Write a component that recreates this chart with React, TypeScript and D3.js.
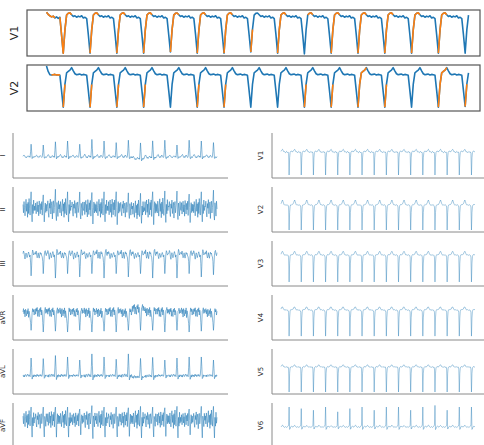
import React from "react";
import * as d3 from "d3";

// ---------------- labels ----------------
const TOP_LABELS = ["V1", "V2"];
const LEFT_LABELS = ["I", "II", "III", "aVR", "aVL", "aVF"];
const RIGHT_LABELS = ["V1", "V2", "V3", "V4", "V5", "V6"];

// ---------------- top strips (16 samples / beat, index 0 = trough) ----------------
const TOP1_LEAD_IN = [0.13, 0.07, 0.03, 0.0, 0.02, -0.03, 0.0, -0.04, -0.01, -0.5];
const TOP1_BEAT = [-1.0, -0.36, 0.05, 0.1, 0.11, 0.06, 0.01, 0.03, -0.01, 0.02, 0.0, 0.03, -0.03, -0.01, -0.05, -0.5];
const TOP1_DEPTH = [1.0, 1.0, 1.0, 1.0, 0.97, 1.0, 1.0, 0.97, 1.0, 1.02, 1.0, 1.0, 1.0, 1.0, 1.0, 1.0];
const TOP1_LEAD_IN_ORANGE = [1, 1, 1, 1, 1, 0, 0, 0, 1];
const TOP1_RISE_BEATS = [1, 1, 1, 1, 1, 1, 1, 1, 1, 0, 1, 1, 1, 1, 1, 0];
const TOP1_HUMP_BEATS = [1, 1, 1, 1, 1, 1, 1, 0, 1, 1, 1, 1, 1, 1, 1, 0];

const TOP2_LEAD_IN = [0.27, 0.1, 0.0, -0.01, 0.0, 0.01, -0.01, 0.0, -0.02, -0.5];
const TOP2_BEAT = [-1.0, -0.3, 0.06, 0.1, 0.14, 0.22, 0.12, 0.03, 0.0, 0.01, 0.02, -0.01, 0.01, 0.0, -0.02, -0.5];
const TOP2_DEPTH = [1.0, 1.0, 1.0, 1.0, 1.0, 1.0, 1.0, 1.0, 1.0, 1.0, 1.0, 1.0, 1.0, 1.0, 1.0, 0.98];
const TOP2_LEAD_IN_ORANGE = [0, 0, 0, 1, 1, 1, 1, 1, 0];
const TOP2_RISE_BEATS = [1, 1, 1, 1, 0, 1, 1, 0, 0, 1, 1, 1, 1, 0, 1, 1];
const TOP2_HUMP_BEATS = [0, 0, 0, 0, 0, 0, 0, 0, 0, 0, 0, 1, 0, 0, 1, 0];

const RISE_MASK = [1, 0, 0, 0, 0, 0, 0, 0, 0, 0, 0, 0, 0, 0, 0, 0];
const HUMP_MASK = [0, 0, 1, 1, 1, 0, 0, 0, 0, 0, 0, 0, 0, 0, 0, 0];

// ---------------- 12-lead grid (24 samples / beat, index 16 = QRS) ----------------
const I_A = [0.06, 0.12, 0.16, 0.1, 0.03, -0.03, 0.02, -0.05, 0.01, 0.05, 0.1, 0.04, -0.01, 0.05, -0.02, 0.42, 1.0, 0.48, -0.12, -0.06, 0.03, -0.03, 0.04, 0.01];
const I_B = [0.02, 0.09, 0.13, 0.15, 0.06, 0.0, -0.04, 0.03, -0.02, 0.07, 0.12, 0.06, 0.02, -0.03, 0.04, 0.4, 1.0, 0.5, -0.08, -0.1, 0.0, 0.02, -0.04, 0.03];
const I_PICK = [0, 1, 0, 0, 1, 0, 1, 0, 1, 0, 0, 1, 0, 1, 0, 1];
const I_AMP = [0.8, 0.75, 0.95, 1.0, 0.8, 1.1, 1.0, 0.9, 1.05, 1.0, 1.05, 1.05, 0.75, 1.05, 1.0, 0.9];
const I_SHIFT = [0, 0, 0, 0, 0, 0, 0, 0, 0, -0.12, -0.04, 0, 0, 0, 0, 0];

const II_A = [0.3, -0.25, 0.5, 0.1, -0.45, 0.25, 0.65, -0.15, 0.35, -0.55, 0.45, -0.3, 0.7, 0.05, -0.4, 0.5, 1.15, -0.2, -0.85, 0.3, -0.3, 0.6, -0.1, 0.2];
const II_B = [-0.1, 0.45, -0.35, 0.2, 0.55, -0.2, 0.3, -0.5, 0.6, 0.1, -0.35, 0.4, -0.05, 0.55, -0.45, 0.65, 1.05, 0.1, -0.95, -0.1, 0.45, -0.25, 0.35, -0.15];
const II_C = [0.15, 0.5, -0.2, -0.5, 0.35, 0.05, 0.6, -0.3, 0.2, 0.45, -0.6, 0.25, 0.5, -0.25, 0.1, 0.55, 1.2, -0.35, -0.7, 0.4, 0.05, -0.45, 0.5, 0.0];
const II_PICK = [0, 1, 2, 0, 2, 1, 0, 1, 2, 0, 1, 0, 2, 1, 0, 2];
const II_AMP = [1.0, 0.9, 1.1, 1.0, 0.95, 1.05, 1.0, 1.1, 0.9, 1.0, 1.1, 1.05, 1.0, 0.95, 1.0, 1.05];
const II_SHIFT = [0, 0, 0, 0, 0, 0, 0, 0, 0, -0.1, 0, 0, 0, 0, 0, 0];

const III_A = [0.12, 0.25, 0.18, -0.02, -0.15, 0.05, 0.15, 0.06, -0.08, 0.02, 0.12, 0.2, 0.1, -0.05, 0.05, -0.35, -1.0, -0.5, 0.1, 0.3, 0.22, 0.05, 0.1, 0.15];
const III_B = [0.2, 0.1, 0.28, 0.05, -0.1, -0.02, 0.18, 0.0, -0.12, 0.08, 0.2, 0.1, 0.15, 0.0, -0.05, -0.3, -1.0, -0.45, 0.05, 0.25, 0.3, 0.1, 0.02, 0.18];
const III_PICK = [0, 1, 0, 1, 0, 0, 1, 0, 1, 0, 1, 0, 0, 1, 0, 1];
const III_AMP = [0.9, 0.8, 1.0, 0.8, 0.95, 0.8, 1.0, 0.8, 0.95, 0.8, 1.0, 0.8, 1.0, 0.8, 0.95, 0.85];
const III_SHIFT = [0, 0, 0, 0, 0, 0, 0, 0, 0, 0, 0, 0, 0, 0, 0, 0];

const AVR_A = [0.2, 0.42, 0.08, 0.32, -0.12, 0.38, 0.15, -0.05, 0.3, 0.08, 0.42, -0.15, 0.25, 0.05, -0.2, -0.5, -1.0, -0.55, 0.15, 0.42, 0.2, 0.36, 0.0, 0.25];
const AVR_B = [0.35, 0.05, 0.4, 0.22, 0.45, -0.08, 0.3, 0.1, -0.1, 0.38, 0.2, 0.45, 0.0, 0.3, 0.12, -0.45, -1.0, -0.5, 0.25, 0.3, 0.45, 0.1, 0.35, 0.15];
const AVR_PICK = [0, 1, 1, 0, 1, 0, 0, 1, 0, 1, 0, 1, 1, 0, 1, 0];
const AVR_AMP = [0.9, 1.0, 0.95, 1.0, 0.9, 1.0, 0.95, 1.0, 0.9, 1.05, 0.95, 1.0, 0.9, 1.0, 0.95, 0.9];
const AVR_SHIFT = [0, 0, 0, 0, 0, 0, 0, 0, 0, 0.15, 0.05, 0, 0, 0, 0, 0];

const AVL_A = [0.0, -0.06, 0.04, -0.08, 0.02, 0.06, 0.0, -0.05, 0.03, 0.08, 0.02, -0.04, 0.05, 0.0, -0.06, 0.42, 1.0, 0.46, -0.2, -0.1, 0.02, -0.08, 0.05, -0.03];
const AVL_B = [-0.04, 0.03, -0.07, 0.05, 0.08, -0.02, 0.04, -0.06, 0.0, 0.05, -0.03, 0.06, 0.02, -0.05, 0.03, 0.4, 1.0, 0.5, -0.16, -0.12, 0.04, -0.05, 0.0, 0.03];
const AVL_PICK = [0, 1, 0, 1, 1, 0, 1, 0, 0, 1, 0, 1, 0, 0, 1, 0];
const AVL_AMP = [0.86, 0.83, 0.98, 0.91, 0.76, 1.06, 0.91, 0.8, 1.06, 0.91, 0.91, 0.76, 0.86, 0.91, 0.91, 0.76];
const AVL_SHIFT = [0, 0, 0, 0, 0, 0, 0, 0, 0, -0.07, -0.02, 0, 0, 0, 0, 0];

const AVF_A = [0.35, -0.2, 0.55, 0.15, -0.4, 0.3, 0.7, -0.1, 0.4, -0.5, 0.5, -0.25, 0.75, 0.1, -0.35, 0.55, 1.0, -0.3, -1.15, 0.25, -0.35, 0.6, -0.15, 0.25];
const AVF_B = [-0.05, 0.5, -0.3, 0.25, 0.6, -0.15, 0.35, -0.45, 0.65, 0.15, -0.3, 0.45, 0.0, 0.6, -0.4, 0.7, 0.95, 0.05, -1.1, -0.05, 0.5, -0.2, 0.4, -0.1];
const AVF_C = [0.2, 0.55, -0.15, -0.45, 0.4, 0.1, 0.65, -0.25, 0.25, 0.5, -0.55, 0.3, 0.55, -0.2, 0.15, 0.6, 1.05, -0.4, -1.2, 0.35, 0.1, -0.4, 0.55, 0.05];
const AVF_PICK = [0, 2, 1, 0, 1, 2, 0, 2, 1, 0, 2, 1, 0, 1, 2, 0];
const AVF_AMP = [1.0, 0.95, 1.05, 1.0, 0.9, 1.05, 1.0, 0.95, 1.0, 1.05, 0.95, 1.0, 1.05, 0.9, 1.0, 1.05];
const AVF_SHIFT = [0, 0, 0, 0, 0, 0, 0, 0, 0, 0, 0, 0, 0, 0, 0, 0];

const V1R = [0.03, 0.07, 0.1, 0.12, 0.08, 0.03, 0.0, 0.02, -0.01, -0.03, 0.0, 0.03, 0.01, -0.02, 0.0, -0.06, -1.0, -0.25, -0.02, 0.02, 0.05, 0.04, 0.01, 0.02];
const V2R = [0.05, 0.1, 0.16, 0.2, 0.14, 0.07, 0.02, 0.0, 0.01, 0.0, -0.01, 0.0, 0.01, 0.0, -0.02, -0.08, -1.0, -0.3, -0.06, 0.0, 0.02, 0.0, 0.02, 0.03];
const V3R = [0.03, 0.08, 0.12, 0.14, 0.1, 0.05, 0.01, 0.0, 0.01, 0.0, -0.01, 0.0, 0.01, 0.0, -0.02, -0.08, -1.0, -0.3, -0.05, 0.0, 0.02, 0.0, 0.01, 0.02];
const V4R = [0.04, 0.09, 0.12, 0.12, 0.08, 0.04, 0.01, 0.0, 0.02, 0.0, -0.01, 0.01, 0.0, -0.01, -0.02, -0.08, -1.0, -0.3, -0.04, 0.01, 0.03, 0.01, 0.02, 0.03];
const V5R = [0.02, 0.05, 0.08, 0.09, 0.06, 0.02, 0.0, 0.0, 0.01, -0.01, 0.0, 0.01, 0.0, -0.01, 0.0, -0.08, -1.0, -0.25, -0.04, 0.0, 0.02, 0.01, 0.0, 0.01];
const V6R = [0.0, 0.03, 0.07, 0.09, 0.06, 0.02, 0.0, -0.02, 0.0, 0.02, 0.0, -0.02, 0.0, 0.02, 0.04, 0.1, 1.0, -0.12, -0.08, 0.0, 0.03, 0.05, 0.02, 0.0];
const V_AMP = [1.0, 1.0, 1.0, 1.0, 1.0, 1.0, 1.0, 1.0, 1.0, 1.0, 1.0, 1.0, 1.0, 1.0, 1.0, 1.0];
const V6_AMP = [1.0, 0.92, 0.84, 1.0, 0.76, 0.92, 1.0, 0.84, 1.0, 1.0, 0.84, 1.0, 1.08, 0.84, 1.0, 1.0];
const ZERO_SHIFT = [0, 0, 0, 0, 0, 0, 0, 0, 0, 0, 0, 0, 0, 0, 0, 0];
const ONE_PICK = [0, 0, 0, 0, 0, 0, 0, 0, 0, 0, 0, 0, 0, 0, 0, 0];

// y domains (signal units) for each panel
const TOP_DOMAINS = [[-1.08, 0.19], [-1.12, 0.3]];
const LEFT_DOMAINS = [[-1.31, 1.5], [-1.53, 1.47], [-1.36, 0.68], [-1.47, 1.18], [-0.9, 1.3], [-1.93, 1.29]];
const RIGHT_DOMAINS = [[-1.13, 0.83], [-1.08, 0.72], [-1.15, 0.52], [-1.15, 0.58], [-1.08, 0.72], [-1.05, 1.2]];

// ---------------- builders ----------------
const BEATS = 16;

function buildTop(leadIn: number[], beat: number[], depth: number[]) {
  const out = [...leadIn];
  for (let b = 0; b < BEATS - 1; b++) beat.forEach((v) => out.push(v * depth[b]));
  beat.slice(0, 3).forEach((v) => out.push(v * depth[BEATS - 1]));
  return out;
}

function buildOrange(leadInMask: number[], rise: number[], hump: number[], n: number) {
  const flags: number[] = [...leadInMask, 0];
  for (let b = 0; b < BEATS; b++) {
    for (let i = 0; i < 16; i++) {
      flags.push((rise[b] && RISE_MASK[i]) || (hump[b] && HUMP_MASK[i]) ? 1 : 0);
    }
  }
  return flags.slice(0, n - 1);
}

function buildStrip(templates: number[][], pick: number[], amp: number[], shift: number[]) {
  const out: number[] = [];
  for (let b = 0; b < BEATS; b++) {
    templates[pick[b]].forEach((v) => out.push(v * amp[b] + shift[b]));
  }
  return out;
}

const TOP_SERIES = [
  buildTop(TOP1_LEAD_IN, TOP1_BEAT, TOP1_DEPTH),
  buildTop(TOP2_LEAD_IN, TOP2_BEAT, TOP2_DEPTH),
];
const TOP_ORANGE = [
  buildOrange(TOP1_LEAD_IN_ORANGE, TOP1_RISE_BEATS, TOP1_HUMP_BEATS, TOP_SERIES[0].length),
  buildOrange(TOP2_LEAD_IN_ORANGE, TOP2_RISE_BEATS, TOP2_HUMP_BEATS, TOP_SERIES[1].length),
];

const LEFT_SERIES = [
  buildStrip([I_A, I_B], I_PICK, I_AMP, I_SHIFT),
  buildStrip([II_A, II_B, II_C], II_PICK, II_AMP, II_SHIFT),
  buildStrip([III_A, III_B], III_PICK, III_AMP, III_SHIFT),
  buildStrip([AVR_A, AVR_B], AVR_PICK, AVR_AMP, AVR_SHIFT),
  buildStrip([AVL_A, AVL_B], AVL_PICK, AVL_AMP, AVL_SHIFT),
  buildStrip([AVF_A, AVF_B, AVF_C], AVF_PICK, AVF_AMP, AVF_SHIFT),
];
const RIGHT_SERIES = [
  buildStrip([V1R], ONE_PICK, V_AMP, ZERO_SHIFT),
  buildStrip([V2R], ONE_PICK, V_AMP, ZERO_SHIFT),
  buildStrip([V3R], ONE_PICK, V_AMP, ZERO_SHIFT),
  buildStrip([V4R], ONE_PICK, V_AMP, ZERO_SHIFT),
  buildStrip([V5R], ONE_PICK, V_AMP, ZERO_SHIFT),
  buildStrip([V6R], ONE_PICK, V6_AMP, ZERO_SHIFT),
];

// ---------------- layout ----------------
const W = 484;
const H = 445;
const TOP_BOX = { x0: 27, x1: 480, y0: 10, h: 46, step: 55 };
const TOP_DATA = { x0: 46.5, x1: 468.5 };
const GRID = { y0: 133, step: 54, h: 45 };
const LEFT_COL = { spine: 13, end: 228, d0: 23, d1: 217, label: 5 };
const RIGHT_COL = { spine: 272, end: 486, d0: 281, d1: 475, label: 263 };
const BLUE = "#1f77b4";
const ORANGE = "#ff7f0e";
const FONT = "DejaVu Sans, sans-serif";

function TopPanel({ idx }: { idx: number }) {
  const vals = TOP_SERIES[idx];
  const flags = TOP_ORANGE[idx];
  const y0 = TOP_BOX.y0 + idx * TOP_BOX.step;
  const x = d3.scaleLinear().domain([0, vals.length - 1]).range([TOP_DATA.x0, TOP_DATA.x1]);
  const y = d3.scaleLinear().domain(TOP_DOMAINS[idx]).range([y0 + TOP_BOX.h, y0]);
  const line = d3.line<number>().x((_, i) => x(i)).y((d) => y(d));
  const oline = d3
    .line<number>()
    .defined((_, i) => (i < flags.length && flags[i] === 1) || (i > 0 && flags[i - 1] === 1))
    .x((_, i) => x(i))
    .y((d) => y(d));
  return (
    <g>
      <path d={line(vals) || ""} fill="none" stroke={BLUE} strokeWidth={1.6} strokeLinejoin="round" />
      <path d={oline(vals) || ""} fill="none" stroke={ORANGE} strokeWidth={1.6} strokeLinejoin="round" />
      <rect
        x={TOP_BOX.x0}
        y={y0}
        width={TOP_BOX.x1 - TOP_BOX.x0}
        height={TOP_BOX.h}
        fill="none"
        stroke="#555"
        strokeWidth={1.2}
      />
      <text
        transform={`translate(${TOP_BOX.x0 - 9},${y0 + TOP_BOX.h / 2}) rotate(-90)`}
        textAnchor="middle"
        fontSize={11}
        fontFamily={FONT}
        fill="#262626"
      >
        {TOP_LABELS[idx]}
      </text>
    </g>
  );
}

function GridPanel({
  vals,
  domain,
  row,
  col,
  label,
  opacity,
  width,
}: {
  vals: number[];
  domain: number[];
  row: number;
  col: typeof LEFT_COL;
  label: string;
  opacity: number;
  width: number;
}) {
  const y0 = GRID.y0 + row * GRID.step;
  const x = d3.scaleLinear().domain([0, vals.length - 1]).range([col.d0, col.d1]);
  const y = d3.scaleLinear().domain(domain).range([y0 + GRID.h, y0]);
  const line = d3.line<number>().x((_, i) => x(i)).y((d) => y(d));
  return (
    <g>
      <path d={line(vals) || ""} fill="none" stroke={BLUE} strokeWidth={width} strokeOpacity={opacity} />
      <line x1={col.spine} x2={col.spine} y1={y0} y2={y0 + GRID.h} stroke="#8a8a8a" strokeWidth={1} />
      <line x1={col.spine} x2={col.end} y1={y0 + GRID.h} y2={y0 + GRID.h} stroke="#8a8a8a" strokeWidth={1} />
      <text
        transform={`translate(${col.label},${y0 + GRID.h / 2}) rotate(-90)`}
        textAnchor="middle"
        fontSize={7}
        fontFamily={FONT}
        fill="#262626"
      >
        {label}
      </text>
    </g>
  );
}

export default function App() {
  return (
    <svg width={W} height={H} style={{ display: "block", position: "absolute", left: 0, top: 0 }}>
      <rect width={W} height={H} fill="#fff" />
      {TOP_LABELS.map((_, i) => (
        <TopPanel key={"t" + i} idx={i} />
      ))}
      {LEFT_LABELS.map((lab, i) => (
        <GridPanel
          key={"l" + i}
          vals={LEFT_SERIES[i]}
          domain={LEFT_DOMAINS[i]}
          row={i}
          col={LEFT_COL}
          label={lab}
          opacity={0.7}
          width={0.75}
        />
      ))}
      {RIGHT_LABELS.map((lab, i) => (
        <GridPanel
          key={"r" + i}
          vals={RIGHT_SERIES[i]}
          domain={RIGHT_DOMAINS[i]}
          row={i}
          col={RIGHT_COL}
          label={lab}
          opacity={0.5}
          width={0.8}
        />
      ))}
    </svg>
  );
}
